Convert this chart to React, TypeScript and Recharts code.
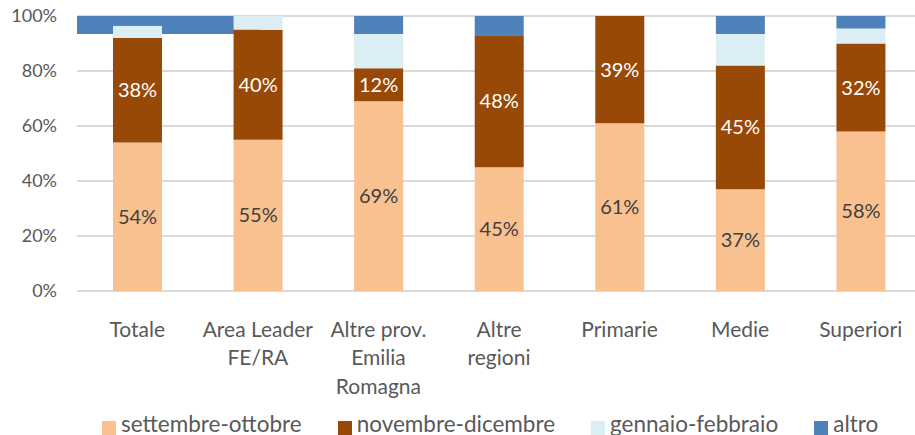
import React from "react";
import { BarChart, Bar, XAxis, YAxis, CartesianGrid, LabelList, Legend, ReferenceArea } from "recharts";

const categories = [
  "Totale",
  "Area Leader FE/RA",
  "Altre prov. Emilia Romagna",
  "Altre regioni",
  "Primarie",
  "Medie",
  "Superiori",
];
const categoryLines = [
  ["Totale"],
  ["Area Leader", "FE/RA"],
  ["Altre prov.", "Emilia", "Romagna"],
  ["Altre", "regioni"],
  ["Primarie"],
  ["Medie"],
  ["Superiori"],
];
const settembreOttobre = [54, 55, 69, 45, 61, 37, 58];
const novembreDicembre = [38, 40, 12, 48, 39, 45, 32];
const gennaioFebbraio = [4.5, 5, 12.5, 0, 0, 11.5, 5.5];
const altro = [3.5, 0, 6.5, 7, 0, 6.5, 4.5];
const seriesNames = ["settembre-ottobre", "novembre-dicembre", "gennaio-febbraio", "altro"];
const yTicks = [0, 20, 40, 60, 80, 100];
// stray "altro" band seen behind the first bar (in category-band units / percent)
const altroBandSpan = [0, 1.3];
const altroBandRange = [93.5, 100];

const COLORS = ["#F9C190", "#984807", "#DBEEF4", "#4F81BD"];
const TEXT = "#595959";
const FONT = "Lato, 'Open Sans', sans-serif";

const data = categories.map((c, i) => ({
  name: c,
  s1: settembreOttobre[i],
  s2: novembreDicembre[i],
  s3: gennaioFebbraio[i],
  s4: altro[i],
}));

const XTick = (props: any) => {
  const { x, y, payload } = props;
  const lines = categoryLines[payload.index] || [String(payload.value)];
  return (
    <text x={x} y={y} textAnchor="middle" fill={TEXT} fontSize={21} fontFamily={FONT}>
      {lines.map((l: string, i: number) => (
        <tspan key={i} x={x} dy={i === 0 ? 45.5 : 28.7}>
          {l}
        </tspan>
      ))}
    </text>
  );
};

const LegendContent = (props: any) => {
  const payload = [...(props.payload || [])].sort(
    (a: any, b: any) => seriesNames.indexOf(a.value) - seriesNames.indexOf(b.value)
  );
  return (
    <div
      style={{
        height: 30,
        display: "flex",
        alignItems: "flex-end",
        paddingLeft: 102,
        fontFamily: FONT,
        fontSize: 22.5,
        lineHeight: "22px",
        color: TEXT,
      }}
    >
      {payload.map((p: any, i: number) => (
        <div
          key={i}
          style={{ display: "flex", alignItems: "flex-end", marginRight: i < payload.length - 1 ? 36 : 0 }}
        >
          <span style={{ display: "inline-block", width: 14, height: 14, background: p.color }} />
          <span style={{ marginLeft: 5, whiteSpace: "nowrap" }}>{p.value}</span>
        </div>
      ))}
    </div>
  );
};

export default function App() {
  return (
    <div
      style={{
        position: "absolute",
        left: 0,
        top: 0,
        width: 915,
        height: 435,
        overflow: "hidden",
        background: "#fff",
      }}
    >
      <BarChart
        width={940}
        height={435}
        data={data}
        margin={{ top: 16, right: 19, left: 0, bottom: 0 }}
        barSize={49}
      >
        <CartesianGrid vertical={false} stroke="#D9D9D9" strokeWidth={2} />
        <XAxis
          dataKey="name"
          tick={<XTick />}
          tickLine={false}
          axisLine={false}
          tickSize={0}
          tickMargin={0}
          height={114}
          interval={0}
        />
        <XAxis xAxisId="span" type="number" domain={[0, categories.length]} hide allowDataOverflow />
        <YAxis
          domain={[0, 100]}
          ticks={yTicks}
          tickFormatter={(v: number) => `${v}%`}
          tick={{ fill: TEXT, fontSize: 18, fontFamily: FONT }}
          tickLine={false}
          axisLine={false}
          tickSize={0}
          tickMargin={20}
          width={77}
          interval={0}
        />
        <ReferenceArea
          xAxisId="span"
          x1={altroBandSpan[0]}
          x2={altroBandSpan[1]}
          y1={altroBandRange[0]}
          y2={altroBandRange[1]}
          fill={COLORS[3]}
          fillOpacity={1}
          stroke="none"
          ifOverflow="visible"
        />
        <Legend content={<LegendContent />} verticalAlign="bottom" />
        <Bar dataKey="s1" name={seriesNames[0]} stackId="a" fill={COLORS[0]} isAnimationActive={false}>
          <LabelList
            dataKey="s1"
            position="center"
            formatter={(v: any) => `${v}%`}
            fill="#404040"
            fontSize={20}
            fontFamily={FONT}
          />
        </Bar>
        <Bar dataKey="s2" name={seriesNames[1]} stackId="a" fill={COLORS[1]} isAnimationActive={false}>
          <LabelList
            dataKey="s2"
            position="center"
            formatter={(v: any) => `${v}%`}
            fill="#FFFFFF"
            fontSize={20}
            fontFamily={FONT}
          />
        </Bar>
        <Bar dataKey="s3" name={seriesNames[2]} stackId="a" fill={COLORS[2]} isAnimationActive={false} />
        <Bar dataKey="s4" name={seriesNames[3]} stackId="a" fill={COLORS[3]} isAnimationActive={false} />
      </BarChart>
    </div>
  );
}
